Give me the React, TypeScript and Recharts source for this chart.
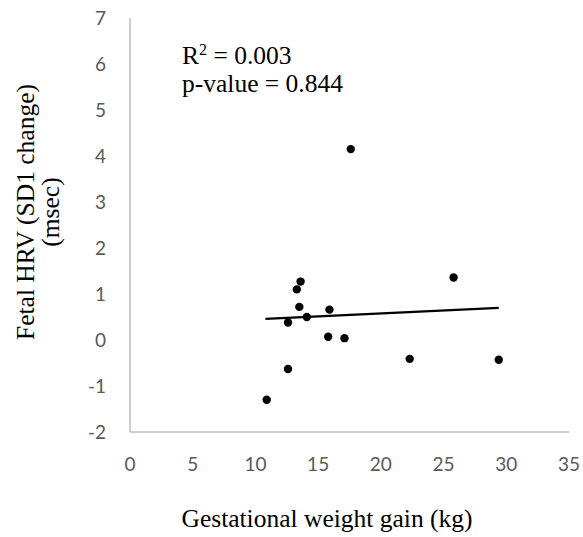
import React from 'react';
import { ScatterChart, Scatter, XAxis, YAxis, ReferenceLine } from 'recharts';

// weight gain (kg) vs change in SD1 (msec)
const weightGain = [17.6, 25.8, 13.6, 13.3, 13.5, 15.9, 14.1, 12.6, 15.8, 17.1, 22.3, 29.4, 12.6, 10.9];
const sd1Change = [4.15, 1.36, 1.27, 1.1, 0.72, 0.66, 0.5, 0.38, 0.07, 0.04, -0.41, -0.43, -0.63, -1.3];

// linear trendline end points
const trendX = [10.8, 29.4];
const trendY = [0.46, 0.7];

const xTicks = [0, 5, 10, 15, 20, 25, 30, 35];
const yTicks = [-2, -1, 0, 1, 2, 3, 4, 5, 6, 7];

const points = weightGain.map((x, i) => ({ x, y: sd1Change[i] }));

const tickStyle = { fill: '#595959', fontSize: 19, fontFamily: 'Lato, "Open Sans", sans-serif' };
const serif = '"Liberation Serif", "Times New Roman", serif';

const App: React.FC = () => {
  return (
    <div style={{ position: 'absolute', left: 0, top: 0, width: 583, height: 537, fontFamily: serif, color: '#000' }}>
      <ScatterChart
        width={583}
        height={537}
        margin={{ top: 18, right: 14, bottom: 65, left: 70 }}
        style={{ overflow: 'visible' }}
      >
        <XAxis
          type="number"
          dataKey="x"
          domain={[0, 35]}
          ticks={xTicks}
          allowDataOverflow
          tickLine={false}
          tickSize={6}
          tickMargin={20}
          height={40}
          axisLine={{ stroke: '#bfbfbf', strokeWidth: 1.5 }}
          tick={tickStyle}
        />
        <YAxis
          type="number"
          dataKey="y"
          domain={[-2, 7]}
          ticks={yTicks}
          allowDataOverflow
          tickLine={false}
          tickSize={6}
          tickMargin={18}
          width={60}
          axisLine={{ stroke: '#bfbfbf', strokeWidth: 1.5 }}
          tick={tickStyle}
        />
        <ReferenceLine
          segment={[
            { x: trendX[0], y: trendY[0] },
            { x: trendX[1], y: trendY[1] },
          ]}
          stroke="#000"
          strokeWidth={2.25}
        />
        <Scatter
          data={points}
          fill="#000"
          isAnimationActive={false}
          shape={(p: any) => <circle cx={p.cx} cy={p.cy} r={4.2} fill="#000" />}
        />
      </ScatterChart>

      <div style={{ position: 'absolute', left: 182, top: 42, fontSize: 25.5, lineHeight: '28px', whiteSpace: 'nowrap' }}>
        <div>
          R<sup style={{ fontSize: 16, lineHeight: 0 }}>2</sup> = 0.003
        </div>
        <div>p-value = 0.844</div>
      </div>

      <div
        style={{
          position: 'absolute',
          left: 37.5 - 200,
          top: 212 - 25,
          width: 400,
          height: 50,
          transform: 'rotate(-90deg)',
          textAlign: 'center',
          fontSize: 25.5,
          lineHeight: '25px',
          whiteSpace: 'nowrap',
        }}
      >
        Fetal HRV (SD1 change)
        <br />
        (msec)
      </div>

      <div
        style={{
          position: 'absolute',
          left: 327 - 200,
          top: 506,
          width: 400,
          textAlign: 'center',
          fontSize: 25.5,
          lineHeight: '25.5px',
          whiteSpace: 'nowrap',
        }}
      >
        Gestational weight gain (kg)
      </div>
    </div>
  );
};

export default App;
